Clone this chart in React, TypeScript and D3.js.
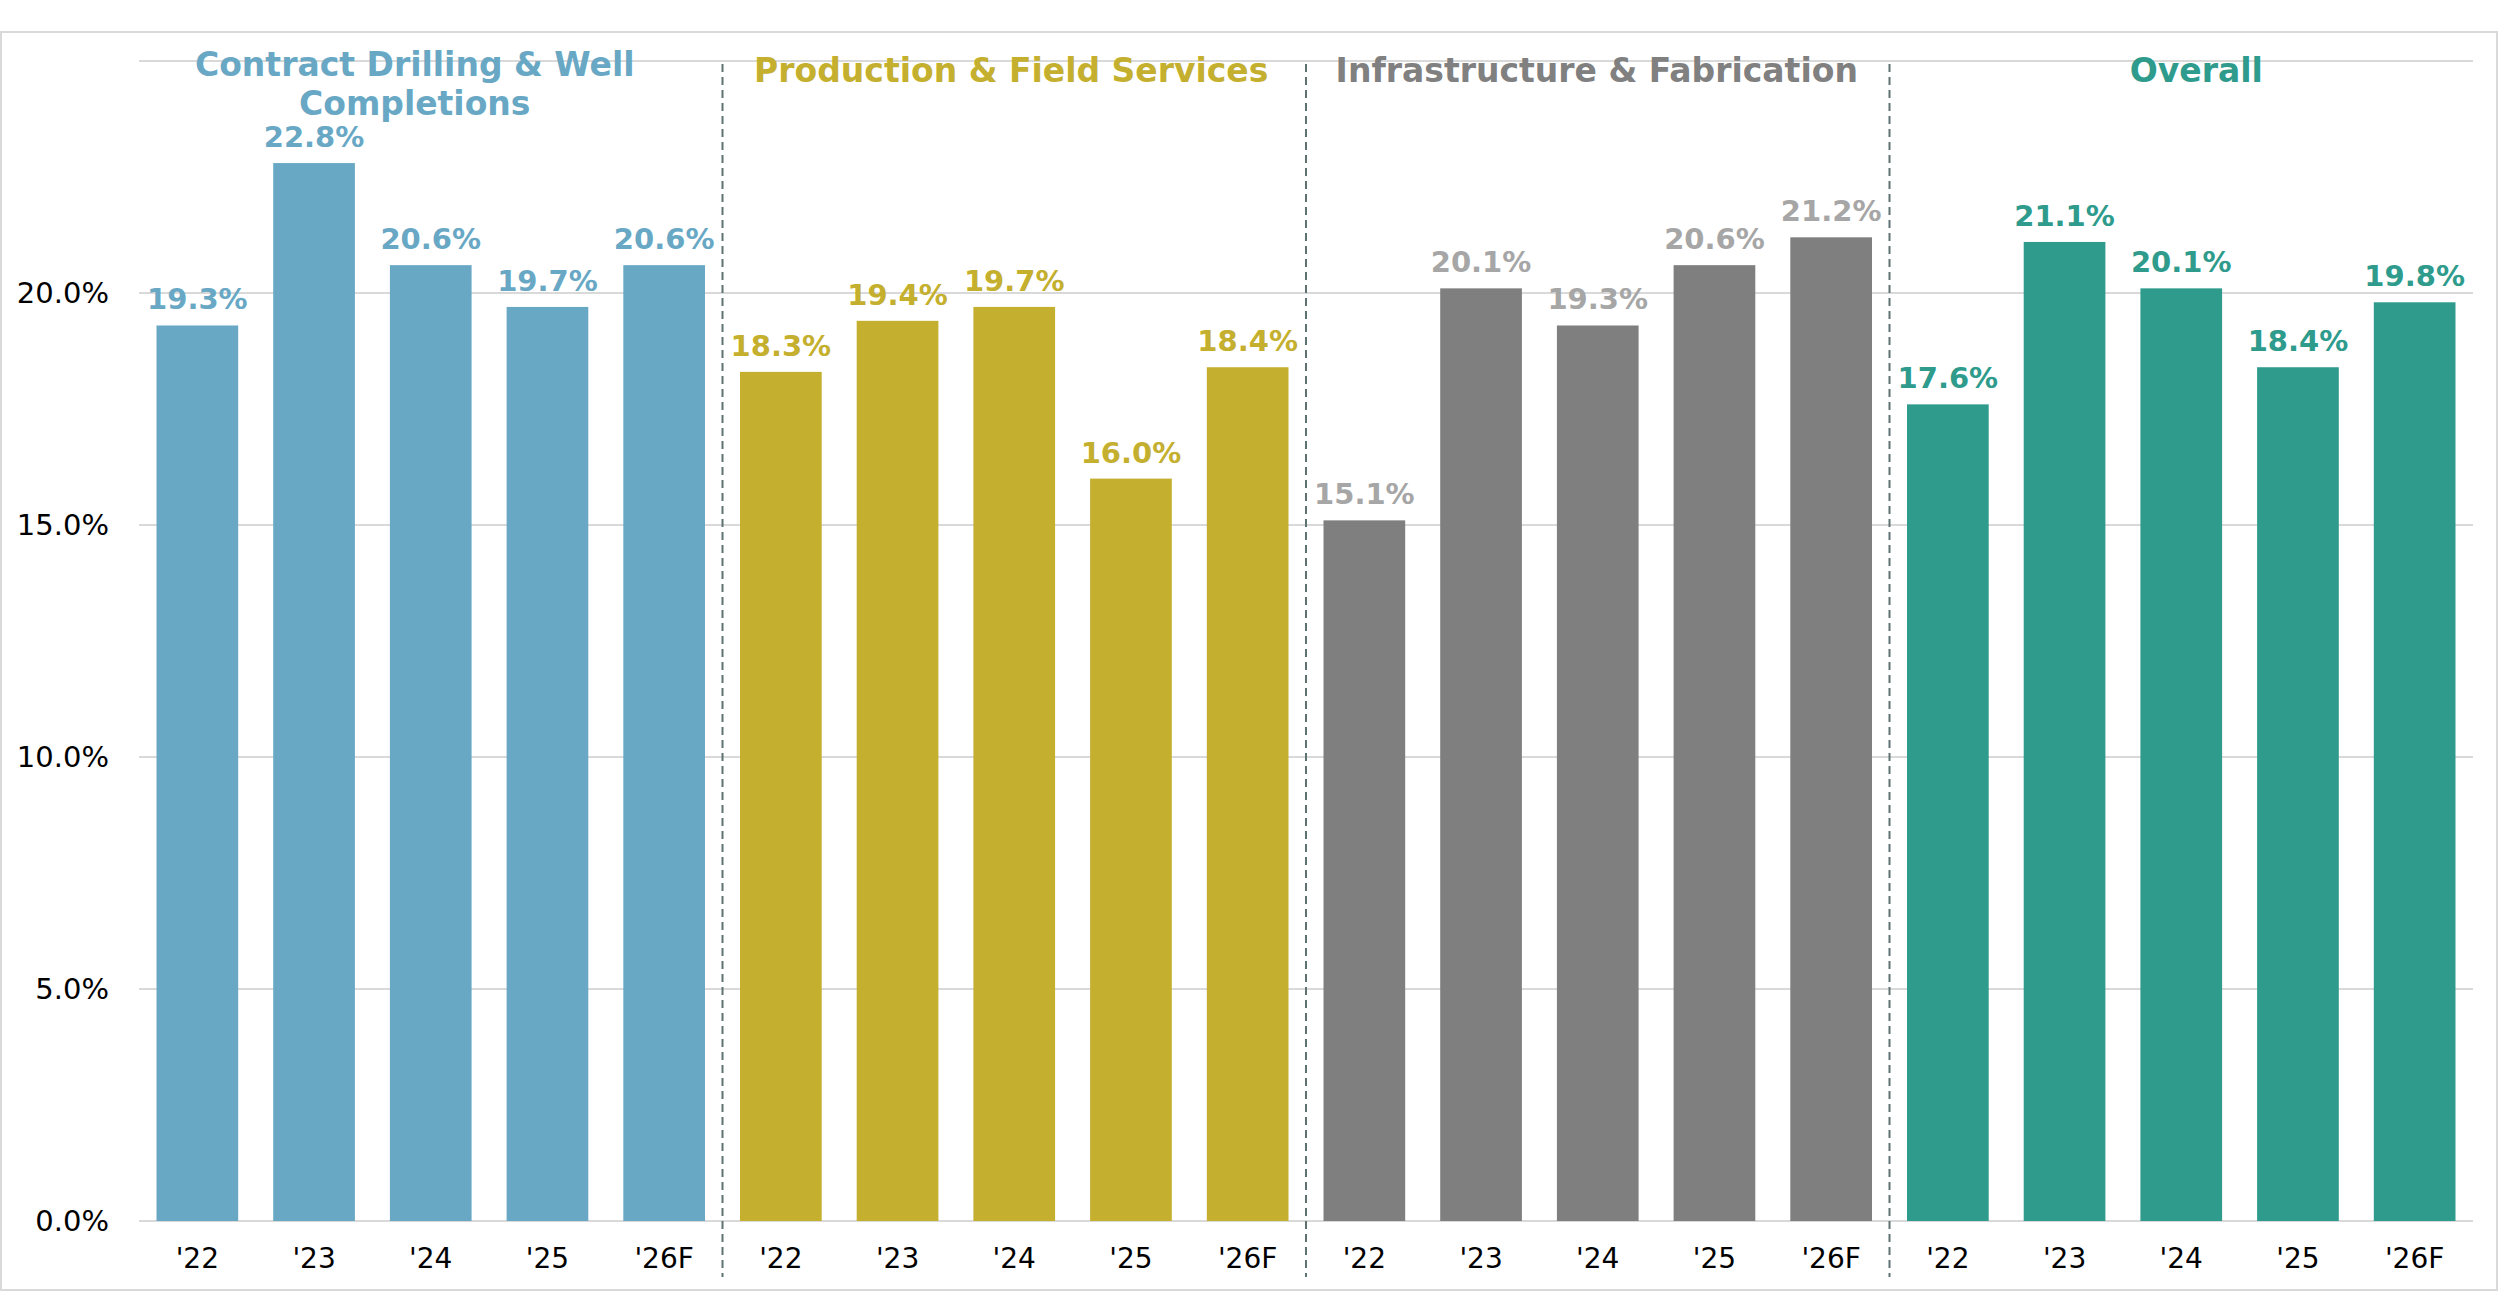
import React, { useEffect, useRef } from "react";
import * as d3 from "d3";

// years shown under every segment
const years = ["'22", "'23", "'24", "'25", "'26F"];

// segment headings (one entry per line)
const segmentTitles = [
  ["Contract Drilling & Well", "Completions"],
  ["Production & Field Services"],
  ["Infrastructure & Fabrication"],
  ["Overall"],
];

// margin values, percent
const contractDrilling = [19.3, 22.8, 20.6, 19.7, 20.6];
const productionField = [18.3, 19.4, 19.7, 16.0, 18.4];
const infrastructure = [15.1, 20.1, 19.3, 20.6, 21.2];
const overall = [17.6, 21.1, 20.1, 18.4, 19.8];

const gridTicks = [0, 5, 10, 15, 20, 25];
const labelTicks = [0, 5, 10, 15, 20];

const barColors = ["#68A8C5", "#C4AF2E", "#7F7F7F", "#2E9B8C"];
const labelColors = ["#68A8C5", "#C4AF2E", "#A6A6A6", "#2E9B8C"];
const titleColors = ["#68A8C5", "#C4AF2E", "#808080", "#2E9B8C"];
const titleShift = [-16, -3, -1, 15];

export default function App() {
  const svgRef = useRef<SVGSVGElement>(null);

  useEffect(() => {
    document.body.style.margin = "0";

    const width = 2500;
    const height = 1292;
    const left = 139;
    const right = 2473;
    const top = 61;
    const bottom = 1221;

    const series = [contractDrilling, productionField, infrastructure, overall];
    const rows = series.flatMap((vals, g) =>
      vals.map((v, i) => ({ key: `${g}-${i}`, year: years[i], value: v, group: g }))
    );

    const svg = d3
      .select(svgRef.current)
      .attr("width", width)
      .attr("height", height)
      .style("display", "block")
      .style("background", "#ffffff");

    svg.selectAll("*").remove();

    // outer frame
    svg
      .append("rect")
      .attr("x", 1)
      .attr("y", 32)
      .attr("width", width - 4)
      .attr("height", height - 34)
      .attr("fill", "none")
      .attr("stroke", "#D9D9D9")
      .attr("stroke-width", 2);

    const xScale = d3
      .scaleBand()
      .domain(rows.map((d) => d.key))
      .range([left, right])
      .paddingInner(0.3)
      .paddingOuter(0.15);

    const yScale = d3.scaleLinear().domain([0, 25]).range([bottom, top]);

    const groupWidth = (right - left) / series.length;

    // gridlines
    svg
      .append("g")
      .selectAll("line")
      .data(gridTicks)
      .join("line")
      .attr("x1", left)
      .attr("x2", right)
      .attr("y1", (d) => yScale(d))
      .attr("y2", (d) => yScale(d))
      .attr("stroke", "#D9D9D9")
      .attr("stroke-width", 2);

    // y tick labels
    svg
      .append("g")
      .selectAll("text")
      .data(labelTicks)
      .join("text")
      .attr("x", 109)
      .attr("y", (d) => yScale(d))
      .attr("dy", "0.36em")
      .attr("text-anchor", "end")
      .attr("font-family", "DejaVu Sans, Verdana, sans-serif")
      .attr("font-size", 29)
      .attr("fill", "#000000")
      .text((d) => `${d.toFixed(1)}%`);

    // bars
    svg
      .append("g")
      .selectAll("rect")
      .data(rows)
      .join("rect")
      .attr("x", (d) => xScale(d.key)!)
      .attr("y", (d) => yScale(d.value))
      .attr("width", xScale.bandwidth())
      .attr("height", (d) => yScale(0) - yScale(d.value))
      .attr("fill", (d) => barColors[d.group]);

    // value labels
    svg
      .append("g")
      .selectAll("text")
      .data(rows)
      .join("text")
      .attr("x", (d) => xScale(d.key)! + xScale.bandwidth() / 2)
      .attr("y", (d) => yScale(d.value) - 16)
      .attr("text-anchor", "middle")
      .attr("font-family", "DejaVu Sans, Verdana, sans-serif")
      .attr("font-weight", "bold")
      .attr("font-size", 29)
      .attr("fill", (d) => labelColors[d.group])
      .text((d) => `${d.value.toFixed(1)}%`);

    // year labels
    svg
      .append("g")
      .selectAll("text")
      .data(rows)
      .join("text")
      .attr("x", (d) => xScale(d.key)! + xScale.bandwidth() / 2)
      .attr("y", 1268)
      .attr("text-anchor", "middle")
      .attr("font-family", "DejaVu Sans, Verdana, sans-serif")
      .attr("font-size", 28)
      .attr("fill", "#000000")
      .text((d) => d.year);

    // dashed separators between segments
    svg
      .append("g")
      .selectAll("line")
      .data(d3.range(1, series.length))
      .join("line")
      .attr("x1", (d) => left + d * groupWidth)
      .attr("x2", (d) => left + d * groupWidth)
      .attr("y1", 64)
      .attr("y2", 1277)
      .attr("stroke", "#5F7272")
      .attr("stroke-width", 2)
      .attr("stroke-dasharray", "8, 5");

    // segment headings
    const titles = svg
      .append("g")
      .selectAll("text")
      .data(segmentTitles)
      .join("text")
      .attr("x", (d, i) => left + (i + 0.5) * groupWidth + titleShift[i])
      .attr("y", 76)
      .attr("text-anchor", "middle")
      .attr("font-family", "DejaVu Sans, Verdana, sans-serif")
      .attr("font-weight", "bold")
      .attr("font-size", 33)
      .attr("fill", (d, i) => titleColors[i]);

    titles.each(function (lines, i) {
      const t = d3.select(this);
      const baseY = lines.length > 1 ? 76 : 82;
      t.attr("y", baseY);
      lines.forEach((line, j) => {
        t.append("tspan")
          .attr("x", left + (i + 0.5) * groupWidth + titleShift[i])
          .attr("y", baseY + j * 39)
          .text(line);
      });
    });
  }, []);

  return (
    <div>
      <svg ref={svgRef}></svg>
    </div>
  );
}
